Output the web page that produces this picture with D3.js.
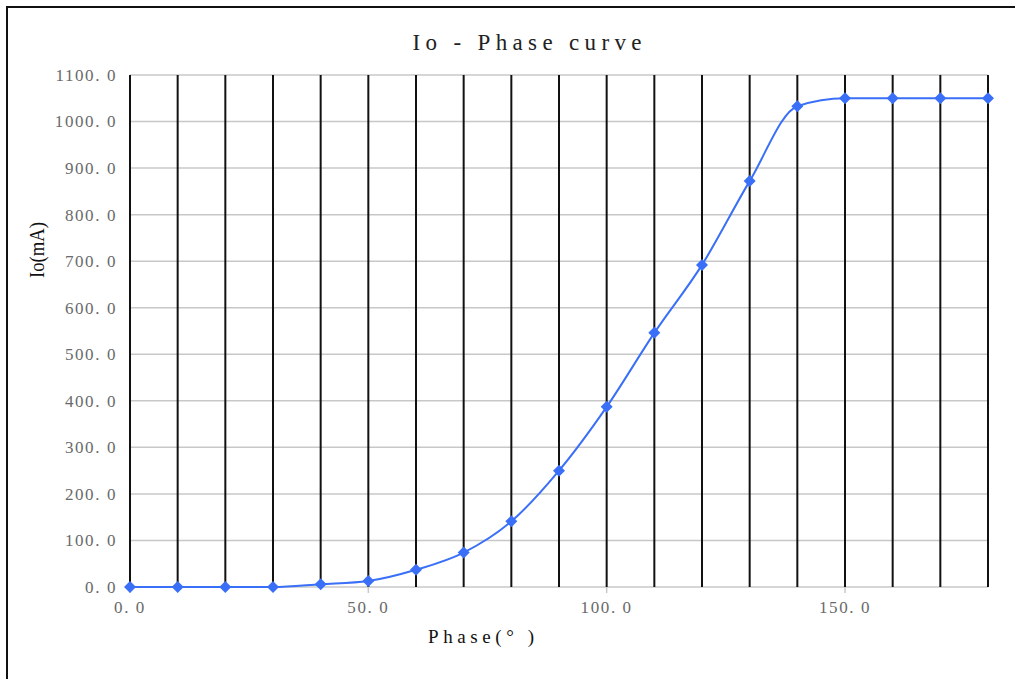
<!DOCTYPE html>
<html>
<head>
<meta charset="utf-8">
<script src="https://cdn.jsdelivr.net/npm/d3@7"></script>
<style>
  body { margin: 0; background: #fff; }
  text { font-family: "Liberation Serif", "DejaVu Serif", serif; }
</style>
</head>
<body>
<svg id="chart" width="1015" height="679"></svg>
<script>
// data
const phase = [0, 10, 20, 30, 40, 50, 60, 70, 80, 90, 100, 110, 120, 130, 140, 150, 160, 170, 180];
const io = [0, 0, 0, 0, 6, 13, 37, 74, 141, 250, 387, 546, 692, 872, 1033, 1050, 1050, 1050, 1050];
const xTicks = [0, 50, 100, 150];
const yTicks = [0, 100, 200, 300, 400, 500, 600, 700, 800, 900, 1000, 1100];
const vGrid = d3.range(0, 181, 10);

const svg = d3.select("#chart");
const margin = { left: 130, right: 27, top: 75, bottom: 92 };
const width = 1015, height = 679;

const x = d3.scaleLinear().domain([0, 180]).range([margin.left, width - margin.right]);
const y = d3.scaleLinear().domain([0, 1100]).range([height - margin.bottom, margin.top]);

const fmt = d => d.toFixed(1).replace(".", ". ");

// outer frame (right and bottom run off the picture)
svg.append("rect")
    .attr("x", 7).attr("y", 7)
    .attr("width", 1030).attr("height", 700)
    .attr("fill", "none")
    .attr("stroke", "#111")
    .attr("stroke-width", 2);

// horizontal grid
svg.append("g")
    .selectAll("line")
    .data(yTicks)
    .enter().append("line")
    .attr("x1", x(0)).attr("x2", x(180))
    .attr("y1", d => y(d)).attr("y2", d => y(d))
    .attr("stroke", "#c8c8c8")
    .attr("stroke-width", 1.5);

// x axis ticks
svg.append("g")
    .selectAll("line")
    .data(xTicks)
    .enter().append("line")
    .attr("x1", d => x(d)).attr("x2", d => x(d))
    .attr("y1", y(0)).attr("y2", y(0) + 6)
    .attr("stroke", "#c8c8c8")
    .attr("stroke-width", 1.5);

// vertical grid
svg.append("g")
    .selectAll("line")
    .data(vGrid)
    .enter().append("line")
    .attr("x1", d => x(d)).attr("x2", d => x(d))
    .attr("y1", y(1100)).attr("y2", y(0))
    .attr("stroke", "#111")
    .attr("stroke-width", 2);

// y tick labels
svg.append("g")
    .selectAll("text")
    .data(yTicks)
    .enter().append("text")
    .attr("x", x(0) - 13)
    .attr("y", d => y(d))
    .attr("dy", "0.35em")
    .attr("text-anchor", "end")
    .attr("fill", "#6a6a6a")
    .style("font-size", "17px")
    .style("letter-spacing", "1.6px")
    .text(fmt);

// x tick labels
svg.append("g")
    .selectAll("text")
    .data(xTicks)
    .enter().append("text")
    .attr("x", d => x(d))
    .attr("y", y(0) + 26)
    .attr("text-anchor", "middle")
    .attr("fill", "#6a6a6a")
    .style("font-size", "17px")
    .style("letter-spacing", "1.6px")
    .text(fmt);

// curve
const line = d3.line()
    .x((d, i) => x(phase[i]))
    .y(d => y(d))
    .curve(d3.curveMonotoneX);

svg.append("path")
    .datum(io)
    .attr("d", line)
    .attr("fill", "none")
    .attr("stroke", "#3a6ff7")
    .attr("stroke-width", 2);

svg.append("g")
    .selectAll("path")
    .data(io)
    .enter().append("path")
    .attr("d", "M0,-6L6,0L0,6L-6,0Z")
    .attr("transform", (d, i) => `translate(${x(phase[i])},${y(d)})`)
    .attr("fill", "#3a6ff7");

// titles
svg.append("text")
    .attr("x", 527).attr("y", 50)
    .attr("text-anchor", "middle")
    .attr("fill", "#222")
    .attr("textLength", 229)
    .attr("lengthAdjust", "spacing")
    .style("font-size", "23px")
    .text("Io - Phase curve");

svg.append("text")
    .attr("x", 481).attr("y", 643)
    .attr("text-anchor", "middle")
    .attr("fill", "#111")
    .attr("textLength", 106)
    .attr("lengthAdjust", "spacing")
    .style("font-size", "19px")
    .text("Phase(° )");

svg.append("text")
    .attr("transform", "translate(44,250) rotate(-90)")
    .attr("text-anchor", "middle")
    .attr("fill", "#111")
    .attr("textLength", 56)
    .attr("lengthAdjust", "spacingAndGlyphs")
    .style("font-size", "20px")
    .text("Io(mA)");
</script>
</body>
</html>
